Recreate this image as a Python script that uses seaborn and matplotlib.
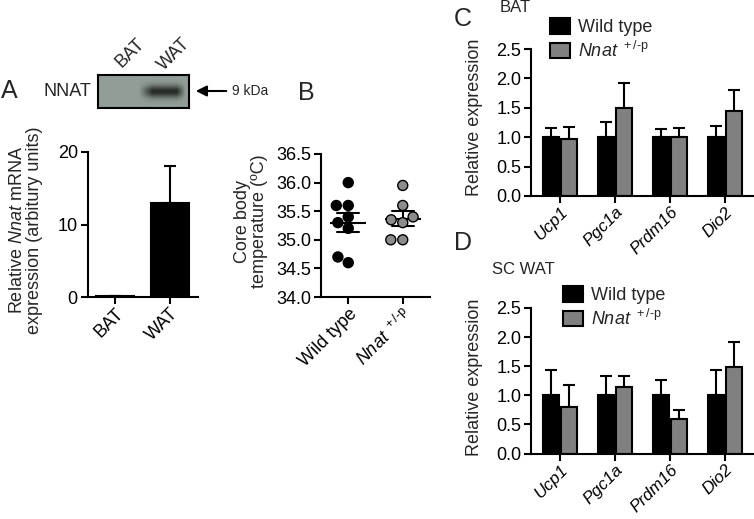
import numpy as np
import pandas as pd
import matplotlib
matplotlib.use('Agg')
import matplotlib.pyplot as plt
from matplotlib.colors import LinearSegmentedColormap
import seaborn as sns

# A: Nnat mRNA in BAT vs WAT
tissue = ['BAT', 'WAT']
nnat_mrna = [0.1, 13.0]
nnat_mrna_sem = [0.05, 5.1]

# B: core body temperature (individual animals)
temp_wt = [36.0, 35.6, 35.6, 35.4, 35.3, 35.2, 34.7, 34.6]
temp_nnat = [35.95, 35.6, 35.4, 35.35, 35.3, 35.0, 35.0]

# C / D: thermogenic genes
genes = ['Ucp1', 'Pgc1a', 'Prdm16', 'Dio2']
bat_wt = [1.0, 1.0, 1.0, 1.0]
bat_wt_sem = [0.15, 0.26, 0.14, 0.19]
bat_nnat = [0.97, 1.50, 1.0, 1.45]
bat_nnat_sem = [0.20, 0.42, 0.15, 0.36]
wat_wt = [1.0, 1.0, 1.0, 1.0]
wat_wt_sem = [0.43, 0.34, 0.27, 0.44]
wat_nnat = [0.80, 1.15, 0.60, 1.49]
wat_nnat_sem = [0.37, 0.19, 0.14, 0.43]

nnat_lab = '$\\it{Nnat}$ $^{\\rm +/\u2010p}$'

sns.set_theme(style='ticks')
plt.rcParams['font.family'] = ['Liberation Sans', 'DejaVu Sans']
plt.rcParams['mathtext.fontset'] = 'custom'
plt.rcParams['mathtext.rm'] = 'Liberation Sans'
plt.rcParams['mathtext.it'] = 'Liberation Sans:italic'
plt.rcParams['mathtext.bf'] = 'Liberation Sans:bold'
plt.rcParams['axes.linewidth'] = 1.5
plt.rcParams['axes.edgecolor'] = 'black'

W, H = 754, 519
fig = plt.figure(figsize=(W / 100, H / 100), dpi=100)


def box(l, t, r, b):
    # pixel box -> figure fraction
    return [l / W, 1 - b / H, (r - l) / W, (b - t) / H]


def style(ax, fs=13):
    sns.despine(ax=ax)
    ax.tick_params(axis='both', length=5, width=1.5, direction='out', labelsize=fs, colors='black', pad=2)
    ax.tick_params(axis='x', pad=1)
    ax.set_xlabel('')
    plt.setp(ax.get_xticklabels(), rotation=45, ha='right', rotation_mode='anchor')


def add_err(ax, values, errs):
    for bar, v, e in zip(ax.patches, values, errs):
        x = bar.get_x() + bar.get_width() / 2
        ax.errorbar(x, v, yerr=[[0], [e]], color='black', capsize=4, elinewidth=1.5, capthick=1.5, zorder=1)


# ---- A ----
axA = fig.add_axes(box(87.5, 152, 197.5, 297))
sns.barplot(x=tissue, y=nnat_mrna, color='black', width=0.7, edgecolor='black', linewidth=1.5,
            errorbar=None, ax=axA, zorder=2)
add_err(axA, nnat_mrna, nnat_mrna_sem)
axA.set_ylim(0, 20)
axA.set_yticks([0, 10, 20])
axA.set_xlim(-0.5, 1.5)
style(axA)
axA.set_ylabel('Relative $\\it{Nnat}$ mRNA\nexpression (arbitury units)', fontsize=13, linespacing=1.0)
axA.yaxis.set_label_coords(-0.40, 0.46)

# western blot strip
axW = fig.add_axes(box(98, 75, 189, 108))
yy = np.linspace(-1, 1, 40)[:, None]
xx = np.linspace(0, 1, 120)[None, :]
band = np.exp(-(yy / 0.38) ** 2) * np.clip((xx - 0.45) / 0.15, 0, 1) * np.clip((0.97 - xx) / 0.1, 0, 1)
blot_cmap = LinearSegmentedColormap.from_list('blot', ['#1a1f1c', '#939d97'])
axW.imshow(1 - 0.9 * band, cmap=blot_cmap, vmin=0, vmax=1, aspect='auto')
axW.set_xticks([])
axW.set_yticks([])
for s in axW.spines.values():
    s.set_linewidth(1.5)
fig.text(130 / W, 1 - 53 / H, 'BAT', rotation=45, ha='center', va='center', fontsize=13)
fig.text(174 / W, 1 - 54 / H, 'WAT', rotation=45, ha='center', va='center', fontsize=13)
fig.text(67 / W, 1 - 91 / H, 'NNAT', ha='center', va='center', fontsize=13)
axW.annotate('', xy=(193 / W, 1 - 91 / H), xytext=(229 / W, 1 - 91 / H), xycoords='figure fraction',
             textcoords='figure fraction',
             arrowprops=dict(arrowstyle='-|>', color='black', lw=1.5, mutation_scale=16))
fig.text(232 / W, 1 - 91 / H, '9 kDa', ha='left', va='center', fontsize=10)

# ---- B ----
axB = fig.add_axes(box(321, 154, 430, 297))
df_t = pd.DataFrame({'group': ['Wild type'] * len(temp_wt) + [nnat_lab] * len(temp_nnat),
                     'temp': temp_wt + temp_nnat})
sns.swarmplot(df_t, x='group', y='temp', hue='group', palette=['black', '#8c8c8c'], size=7.2,
              edgecolor='black', linewidth=1, legend=False, ax=axB)
sns.pointplot(df_t, x='group', y='temp', errorbar='se', capsize=0.4, color='black', markers='_',
              markersize=26, markeredgewidth=1.5, linestyle='none', err_kws={'linewidth': 1.5}, ax=axB)
axB.set_ylim(34.0, 36.5)
axB.set_yticks(np.arange(34.0, 36.51, 0.5))
axB.yaxis.set_major_formatter('{x:.1f}')
axB.set_xlim(-0.5, 1.5)
style(axB)
axB.set_ylabel('Core body\ntemperature (ºC)', fontsize=13, linespacing=1.0)
axB.yaxis.set_label_coords(-0.49, 0.53)


# ---- C / D ----
def expr_panel(ax, wt, wt_sem, nn, nn_sem, leg_xy):
    df = pd.DataFrame({'gene': genes * 2, 'value': wt + nn, 'sem': wt_sem + nn_sem,
                       'group': ['Wild type'] * len(genes) + [nnat_lab] * len(genes)})
    sns.barplot(df, x='gene', y='value', hue='group', palette=['black', '#808080'], width=0.66, gap=0.15,
                edgecolor='black', linewidth=1.5, errorbar=None, ax=ax, zorder=2)
    add_err(ax, df['value'], df['sem'])
    ax.set_ylim(0, 2.5)
    ax.set_yticks(np.arange(0, 2.51, 0.5))
    ax.yaxis.set_major_formatter('{x:.1f}')
    ax.set_xlim(-0.53, 3.53)
    style(ax)
    ax.tick_params(axis='x', labelsize=12.3)
    plt.setp(ax.get_xticklabels(), fontstyle='italic')
    ax.set_ylabel('Relative expression', fontsize=13)
    ax.legend(loc='upper left', bbox_to_anchor=(leg_xy[0] / W, 1 - leg_xy[1] / H), bbox_transform=fig.transFigure,
              frameon=False, handlelength=1.1, handleheight=0.95, handletextpad=0.45, labelspacing=0.25,
              borderpad=0, borderaxespad=0, fontsize=13)


axC = fig.add_axes(box(531, 49, 754, 196))
expr_panel(axC, bat_wt, bat_wt_sem, bat_nnat, bat_nnat_sem, (550, 18))
axC.yaxis.set_label_coords(-0.215, 0.534)
axD = fig.add_axes(box(531, 308, 754, 453.5))
expr_panel(axD, wat_wt, wat_wt_sem, wat_nnat, wat_nnat_sem, (563, 286))
axD.yaxis.set_label_coords(-0.215, 0.523)

fig.text(500 / W, 1 - 7 / H, 'BAT', ha='left', va='center', fontsize=12)
fig.text(492 / W, 1 - 270 / H, 'SC WAT', ha='left', va='center', fontsize=12)

# panel letters
for lab, x, y in [('A', 9, 91), ('B', 306, 93), ('C', 463, 19), ('D', 463, 243)]:
    fig.text(x / W, 1 - y / H, lab, ha='center', va='center', fontsize=18)

fig.savefig('out.png', dpi=100)
